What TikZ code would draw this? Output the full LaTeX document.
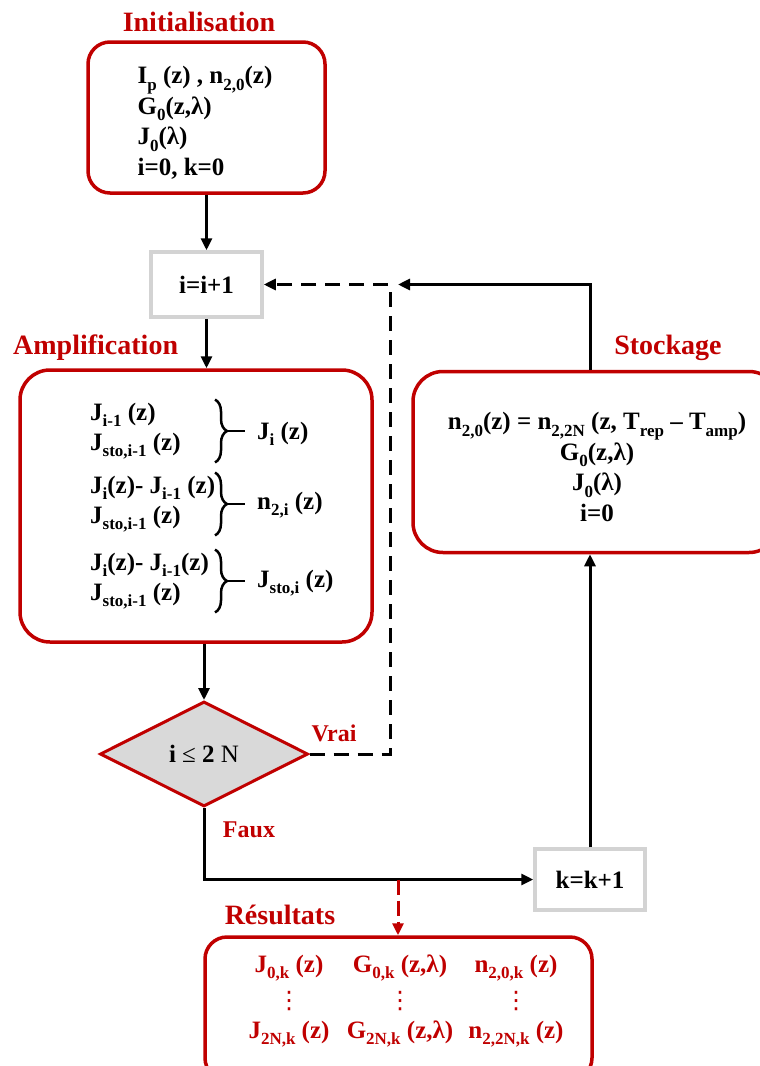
\documentclass[tikz,border=0pt]{standalone}
\usepackage{fontspec}
\setmainfont{Liberation Serif}
\newfontfamily\dotsfont{DejaVu Sans}
\usepackage{tikz}
\usetikzlibrary{shapes.geometric,arrows.meta,positioning,calc,decorations.pathreplacing}
\definecolor{stepred}{RGB}{192,0,0}
\definecolor{boxgray}{RGB}{211,211,211}
\definecolor{decfill}{RGB}{217,217,217}
\newcommand{\idx}[1]{\raisebox{-6.5pt}{\fontsize{17}{17}\selectfont #1}}
\newcommand{\vdotz}{\raisebox{-3.5pt}{\dotsfont\mdseries\fontsize{24}{24}\selectfont ⋮}}

\begin{document}
\begin{tikzpicture}[
    x=1pt, y=-1pt,
    font=\fontsize{25}{30}\selectfont\bfseries,
    title/.style={text=stepred, font=\fontsize{28}{32}\selectfont\bfseries, inner sep=0pt},
    answer/.style={text=stepred, font=\fontsize{24}{28}\selectfont\bfseries, inner sep=0pt},
    block/.style={rectangle, draw=stepred, line width=3.5pt, rounded corners=#1, fill=white, inner sep=0pt},
    block/.default=28pt,
    blocktext/.style={align=#1, inner sep=0pt, font=\fontsize{25}{30.5}\selectfont\bfseries},
    blocktext/.default=center,
    counter/.style={rectangle, draw=boxgray, line width=3.5pt, fill=white, minimum width=111pt, inner sep=0pt},
    decision/.style={diamond, aspect=2, draw=stepred, fill=decfill, line width=3pt, minimum width=208pt, minimum height=105pt, inner sep=0pt, font=\fontsize{25}{30}\selectfont\mdseries},
    group/.style={align=left, inner sep=3pt, anchor=west},
    rescol/.style={text=stepred, align=center, font=\fontsize{25}{33}\selectfont\bfseries, inner sep=0pt},
    brc/.style={decorate, decoration={brace, amplitude=12pt}, line width=2.5pt},
    brctip/.style={line width=2.5pt},
    flow/.style={->, >={Triangle[length=12pt,width=11pt]}, draw=black, line width=3pt},
    dflow/.style={flow, dash pattern=on 15pt off 9pt},
    rflow/.style={flow, draw=stepred, dash pattern=on 15pt off 6pt}
]
    \useasboundingbox (0,0) rectangle (760,1066);

    \node[title] (tInit) at (199,22) {Initialisation};
    \node[block=22pt, minimum width=237pt, minimum height=151pt] (init) at (206.5,117.5) {};
    \node[blocktext=left] (initTxt) at (205,123) {I\idx{p} (z) , n\idx{2,0}(z)\\G\idx{0}(z,λ)\\J\idx{0}(λ)\\i=0, k=0};

    \node[counter, minimum height=65pt] (inc) at (206.5,284.5) {i=i+1};

    \node[title, anchor=west] (tAmp) at (13,348) {Amplification};
    \node[block=30pt, minimum width=352pt, minimum height=272pt] (amp) at (196,506) {};
    \node[group] (g1) at (87,431) {J\idx{i-1} (z)\\J\idx{sto,i-1} (z)};
    \node[group] (g2) at (87,504) {J\idx{i}(z)- J\idx{i-1} (z)\\J\idx{sto,i-1} (z)};
    \node[group] (g3) at (87,581) {J\idx{i}(z)- J\idx{i-1}(z)\\J\idx{sto,i-1} (z)};
    \coordinate (bx) at (215,0);
    \foreach \g in {g1,g2,g3}{
        \draw[brc] (bx |- \g.north) -- (bx |- \g.south);
        \draw[brctip] ($(bx |- \g.west)+(11,0)$) -- ++(19,0);
    }
    \node[anchor=west, inner sep=0pt] (ji) at (257,434) {J\idx{i} (z)};
    \node[anchor=west, inner sep=0pt] (n2i) at (257,505) {n\idx{2,i} (z)};
    \node[anchor=west, inner sep=0pt] (jsto) at (257,583) {J\idx{sto,i} (z)};

    \node[title] (tSto) at (668,348) {Stockage};
    \node[block=30pt, minimum width=366pt, minimum height=181pt] (stock) at (596,462) {};
    \node[blocktext] (stockTxt) at (597,467) {n\idx{2,0}(z) = n\idx{2,2N} (z, T\idx{rep} – T\idx{amp})\\G\idx{0}(z,λ)\\J\idx{0}(λ)\\i=0};

    \node[decision] (dec) at (204,754) {{\bfseries i} ≤ {\bfseries 2} N};
    \node[answer] (vrai) at (334,733) {Vrai};
    \node[answer] (faux) at (249,830) {Faux};

    \node[counter, minimum width=110pt, minimum height=61pt] (kinc) at (590,879.5) {k=k+1};

    \node[title] (tRes) at (280,915) {Résultats};
    \node[block=22pt, minimum width=387pt, minimum height=143pt] (result) at (398.5,1008.5) {};
    \node[rescol] (r1) at (289,1001) {J\idx{0,k} (z)\\\vdotz\\J\idx{2N,k} (z)};
    \node[rescol] (r2) at (400,1001) {G\idx{0,k} (z,λ)\\\vdotz\\G\idx{2N,k} (z,λ)};
    \node[rescol] (r3) at (516,1001) {n\idx{2,0,k} (z)\\\vdotz\\n\idx{2,2N,k} (z)};

    \coordinate (turn) at (390,284.5);
    \coordinate (joint) at (398,284.5);
    \coordinate (split) at (398,879.5);

    \draw[flow] (init) -- (inc);
    \draw[flow] (inc) -- (inc.south |- amp.north);
    \draw[flow] (dec.north |- amp.south) -- (dec);
    \draw[dflow] (dec.east) -| (turn) -- (inc.east);
    \draw[flow] (kinc.north |- stock.north) |- (joint);
    \draw[flow] (kinc) -- (kinc |- stock.south);
    \draw[flow] (dec.south) |- (kinc.west);
    \draw[rflow] (split) -- (split |- result.north);

\end{tikzpicture}
\end{document}
